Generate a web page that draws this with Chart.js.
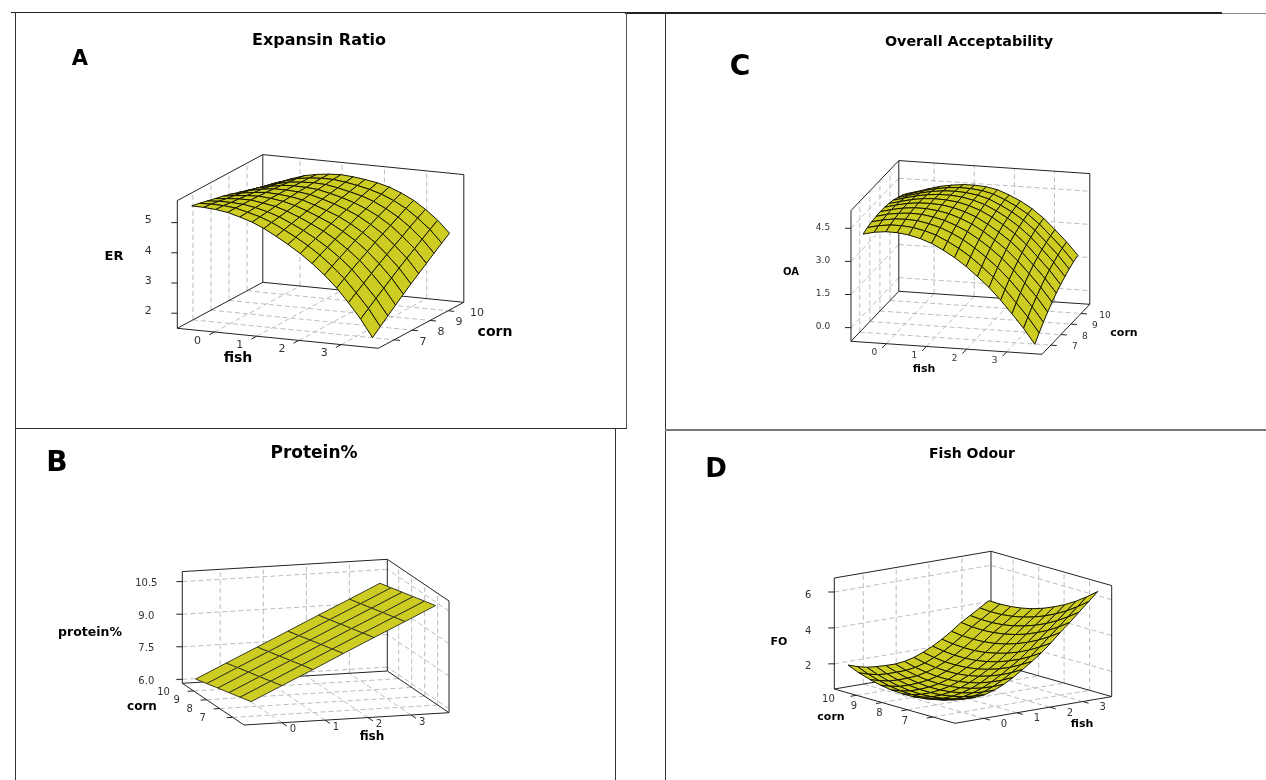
<!DOCTYPE html>
<html>
<head>
<meta charset="utf-8">
<title>Surface plots</title>
<script src="https://cdn.jsdelivr.net/npm/chart.js@4/dist/chart.umd.min.js"></script>
<style>
  html, body { margin: 0; padding: 0; background: #fff; }
  #page { position: relative; width: 1266px; height: 780px; overflow: hidden; }
  .frame { position: absolute; background: #444; }
  canvas { position: absolute; }
</style>
</head>
<body>
<div id="page"></div>
<script>
// axis ticks, same factors in every panel
const fishTicks = [0, 1, 2, 3];
const cornTicks = [7, 8, 9, 10];
const fishRange = [-0.88, 3.88];
const cornRange = [6.13, 10.87];

// mesh positions of the surfaces
const fishMesh = [-0.64, -0.36, -0.07, 0.21, 0.50, 0.79, 1.07, 1.36, 1.64, 1.93, 2.21, 2.50, 2.79, 3.07, 3.36, 3.64];
const cornMesh = [6.37, 6.80, 7.22, 7.65, 8.08, 8.50, 8.93, 9.36, 9.78, 10.21, 10.64];
const fishMeshCoarse = [-0.64, 0.07, 0.79, 1.50, 2.21, 2.93, 3.64];
const cornMeshCoarse = [6.37, 7.22, 8.08, 8.93, 9.78, 10.64];

// A: Expansin Ratio, one row per fish value, one column per corn value
const zTicksA = [2, 3, 4, 5];
const zLabelsA = ["2", "3", "4", "5"];
const erValues = [
  [5.51, 5.46, 5.40, 5.34, 5.28, 5.21, 5.13, 5.05, 4.97, 4.89, 4.80],
  [5.50, 5.47, 5.43, 5.38, 5.34, 5.29, 5.24, 5.18, 5.11, 5.05, 4.98],
  [5.47, 5.46, 5.43, 5.41, 5.38, 5.35, 5.32, 5.27, 5.23, 5.18, 5.13],
  [5.41, 5.42, 5.41, 5.41, 5.40, 5.39, 5.37, 5.35, 5.32, 5.30, 5.26],
  [5.30, 5.32, 5.34, 5.35, 5.37, 5.37, 5.37, 5.37, 5.36, 5.36, 5.34],
  [5.17, 5.21, 5.24, 5.28, 5.31, 5.33, 5.35, 5.36, 5.38, 5.39, 5.39],
  [5.00, 5.06, 5.11, 5.16, 5.21, 5.26, 5.30, 5.33, 5.36, 5.39, 5.41],
  [4.78, 4.86, 4.93, 5.00, 5.07, 5.13, 5.19, 5.24, 5.29, 5.34, 5.38],
  [4.55, 4.65, 4.74, 4.82, 4.91, 4.99, 5.07, 5.14, 5.20, 5.27, 5.33],
  [4.29, 4.41, 4.51, 4.62, 4.73, 4.83, 4.92, 5.01, 5.10, 5.18, 5.26],
  [4.00, 4.14, 4.26, 4.39, 4.51, 4.63, 4.75, 4.85, 4.96, 5.06, 5.16],
  [3.66, 3.81, 3.96, 4.10, 4.25, 4.38, 4.51, 4.64, 4.76, 4.89, 5.00],
  [3.27, 3.44, 3.61, 3.77, 3.93, 4.09, 4.24, 4.38, 4.52, 4.67, 4.80],
  [2.82, 3.01, 3.19, 3.38, 3.56, 3.73, 3.90, 4.06, 4.23, 4.39, 4.54],
  [2.32, 2.53, 2.73, 2.93, 3.13, 3.32, 3.51, 3.69, 3.87, 4.05, 4.22],
  [1.74, 1.97, 2.19, 2.41, 2.63, 2.84, 3.04, 3.24, 3.44, 3.64, 3.83],
];

// B: Protein%
const zTicksB = [6, 7.5, 9, 10.5];
const zLabelsB = ["6.0", "7.5", "9.0", "10.5"];
const proteinValues = [
  [6.77, 6.63, 6.49, 6.36, 6.22, 6.08],
  [7.42, 7.28, 7.14, 7.01, 6.87, 6.73],
  [8.07, 7.94, 7.80, 7.66, 7.52, 7.38],
  [8.73, 8.59, 8.45, 8.31, 8.17, 8.03],
  [9.38, 9.24, 9.10, 8.96, 8.82, 8.68],
  [10.03, 9.89, 9.75, 9.61, 9.47, 9.33],
  [10.68, 10.54, 10.40, 10.26, 10.12, 9.98],
];

// C: Overall Acceptability
const zTicksC = [0, 1.5, 3, 4.5];
const zLabelsC = ["0.0", "1.5", "3.0", "4.5"];
const oaValues = [
  [4.15, 4.24, 4.30, 4.34, 4.35, 4.35, 4.31, 4.26, 4.17, 4.07, 3.94],
  [4.27, 4.36, 4.42, 4.47, 4.48, 4.48, 4.44, 4.39, 4.31, 4.21, 4.08],
  [4.33, 4.43, 4.50, 4.55, 4.58, 4.59, 4.56, 4.52, 4.45, 4.36, 4.24],
  [4.32, 4.43, 4.52, 4.59, 4.63, 4.65, 4.64, 4.61, 4.56, 4.48, 4.38],
  [4.25, 4.38, 4.49, 4.57, 4.63, 4.66, 4.67, 4.66, 4.62, 4.56, 4.47],
  [4.12, 4.27, 4.39, 4.49, 4.57, 4.63, 4.65, 4.66, 4.64, 4.60, 4.53],
  [3.94, 4.11, 4.25, 4.37, 4.47, 4.54, 4.59, 4.61, 4.61, 4.59, 4.54],
  [3.67, 3.86, 4.03, 4.17, 4.29, 4.39, 4.46, 4.50, 4.53, 4.53, 4.50],
  [3.37, 3.58, 3.77, 3.93, 4.07, 4.19, 4.28, 4.34, 4.39, 4.41, 4.40],
  [3.00, 3.23, 3.43, 3.61, 3.77, 3.90, 4.01, 4.09, 4.15, 4.19, 4.20],
  [2.58, 2.83, 3.05, 3.25, 3.42, 3.57, 3.70, 3.80, 3.88, 3.93, 3.96],
  [2.12, 2.38, 2.62, 2.83, 3.02, 3.19, 3.33, 3.44, 3.54, 3.61, 3.65],
  [1.58, 1.86, 2.11, 2.33, 2.54, 2.72, 2.87, 3.00, 3.11, 3.19, 3.25],
  [1.00, 1.29, 1.55, 1.78, 2.00, 2.19, 2.35, 2.49, 2.61, 2.70, 2.77],
  [0.38, 0.68, 0.95, 1.19, 1.42, 1.62, 1.79, 1.94, 2.07, 2.17, 2.25],
  [-0.31, 0.00, 0.28, 0.54, 0.78, 0.99, 1.17, 1.33, 1.47, 1.59, 1.68],
];

// D: Fish Odour
const zTicksD = [2, 4, 6];
const zLabelsD = ["2", "4", "6"];
const foValues = [
  [1.82, 1.59, 1.41, 1.29, 1.22, 1.21, 1.25, 1.34, 1.49, 1.69, 1.95],
  [1.72, 1.48, 1.30, 1.17, 1.10, 1.08, 1.11, 1.20, 1.34, 1.53, 1.78],
  [1.70, 1.45, 1.26, 1.12, 1.03, 1.00, 1.02, 1.10, 1.23, 1.41, 1.65],
  [1.76, 1.50, 1.30, 1.15, 1.05, 1.01, 1.02, 1.08, 1.20, 1.37, 1.60],
  [1.92, 1.64, 1.42, 1.25, 1.13, 1.07, 1.06, 1.11, 1.21, 1.37, 1.57],
  [2.15, 1.85, 1.60, 1.41, 1.27, 1.18, 1.15, 1.17, 1.25, 1.38, 1.56],
  [2.45, 2.12, 1.85, 1.63, 1.47, 1.36, 1.30, 1.30, 1.36, 1.46, 1.62],
  [2.80, 2.45, 2.16, 1.92, 1.73, 1.60, 1.52, 1.50, 1.53, 1.61, 1.75],
  [3.16, 2.80, 2.49, 2.23, 2.03, 1.88, 1.79, 1.75, 1.76, 1.83, 1.95],
  [3.55, 3.17, 2.85, 2.58, 2.36, 2.20, 2.09, 2.04, 2.04, 2.09, 2.20],
  [4.00, 3.61, 3.27, 2.98, 2.75, 2.58, 2.45, 2.38, 2.37, 2.41, 2.50],
  [4.50, 4.09, 3.74, 3.44, 3.19, 3.00, 2.86, 2.78, 2.75, 2.77, 2.85],
  [4.97, 4.55, 4.19, 3.89, 3.63, 3.44, 3.29, 3.20, 3.16, 3.18, 3.25],
  [5.45, 5.02, 4.64, 4.31, 4.04, 3.83, 3.66, 3.55, 3.50, 3.50, 3.55],
  [5.95, 5.50, 5.10, 4.76, 4.47, 4.24, 4.06, 3.93, 3.86, 3.84, 3.88],
  [6.43, 5.96, 5.55, 5.19, 4.89, 4.64, 4.44, 4.30, 4.22, 4.18, 4.20],
];

const SURFACE = "#cccc22";
const MESH = "#141400";
const EDGE = "#222222";
const GRID = "#bdbdbd";
const FONT = "'DejaVu Sans'";

// frame lines of the four boxes: left, top, width, height, colour
const frames = [
  [11, 12, 615, 1, "#222"], [625, 12, 597, 2, "#222"], [1222, 13, 44, 1, "#888"],
  [15, 12, 1, 416, "#333"], [626, 12, 1, 416, "#555"], [15, 428, 612, 1, "#333"],
  [665, 12, 1, 768, "#333"], [665, 429, 601, 2, "#777"],
  [15, 428, 1, 352, "#333"], [615, 428, 1, 352, "#333"],
];

const panels = [
  {
    box: [16, 13, 610, 415],
    origin: [177.3, 328.3], ex: [201, 20], ey: [85.5, -46], ez: 127.7,
    zRange: [1.5, 5.73], zTicks: zTicksA, zLabels: zLabelsA, zGrid: false,
    fish: fishMesh, corn: cornMesh, values: erValues, sideWallAtFishMax: false,
    tickFont: 11, mesh: MESH,
    fishLabel: [-17, 9], cornLabel: [29, 2], zLabel: [-29, -2],
    texts: [
      ["Expansin Ratio", 319, 41, "bold 16px"], ["A", 80, 60, "bold 21px"],
      ["ER", 114, 257, "bold 13px"], ["fish", 238, 358, "bold 14px"], ["corn", 495, 332, "bold 14px"],
    ],
  },
  {
    box: [16, 429, 599, 351],
    origin: [244, 725], ex: [205, -12.3], ey: [-61.7, -41.7], ez: 111.7,
    zRange: [5.82, 10.96], zTicks: zTicksB, zLabels: zLabelsB, zGrid: true,
    fish: fishMeshCoarse, corn: cornMeshCoarse, values: proteinValues, sideWallAtFishMax: true,
    tickFont: 10, mesh: "#3a3a20",
    fishLabel: [11, 7], cornLabel: [-30, 1], zLabel: [-36, 2],
    texts: [
      ["Protein%", 314, 454, "bold 17px"], ["B", 57, 464, "bold 28px"],
      ["protein%", 90, 633, "bold 12.5px"], ["corn", 142, 707, "bold 12px"], ["fish", 372, 737, "bold 12px"],
    ],
  },
  {
    box: [666, 13, 600, 416],
    origin: [851, 341.3], ex: [191, 13], ey: [47.8, -50], ez: 130.7,
    zRange: [-0.62, 5.3], zTicks: zTicksC, zLabels: zLabelsC, zGrid: true,
    fish: fishMesh, corn: cornMesh, values: oaValues, sideWallAtFishMax: false,
    tickFont: 9, mesh: MESH,
    fishLabel: [-12, 9], cornLabel: [24, 2], zLabel: [-28, -1],
    texts: [
      ["Overall Acceptability", 969, 42, "bold 14.3px"], ["C", 740, 68, "bold 28px"],
      ["OA", 791, 272, "bold 10px"], ["corn", 1124, 333, "bold 11px"], ["fish", 924, 369, "bold 11px"],
    ],
  },
  {
    box: [666, 431, 600, 349],
    origin: [955, 723.3], ex: [156.7, -26.7], ey: [-120.7, -34.3], ez: 111,
    zRange: [0.6, 6.78], zTicks: zTicksD, zLabels: zLabelsD, zGrid: true,
    fish: fishMesh, corn: cornMesh, values: foValues, sideWallAtFishMax: true,
    tickFont: 10, mesh: MESH,
    fishLabel: [20, 6], cornLabel: [-28, 4], zLabel: [-26, 3],
    texts: [
      ["Fish Odour", 972, 454, "bold 14px"], ["D", 716, 470, "bold 26px"],
      ["FO", 779, 642, "bold 11px"], ["corn", 831, 717, "bold 11px"], ["fish", 1082, 724, "bold 11px"],
    ],
  },
];

const page = document.getElementById("page");
frames.forEach(([left, top, width, height, color]) => {
  const line = document.createElement("div");
  line.className = "frame";
  line.style.cssText = `left:${left}px;top:${top}px;width:${width}px;height:${height}px;background:${color}`;
  page.appendChild(line);
});

// Parallel projection of (fish, corn, value) on the page
const projector = (p) => (fish, corn, value) => {
  const u = (fish - fishRange[0]) / (fishRange[1] - fishRange[0]);
  const v = (corn - cornRange[0]) / (cornRange[1] - cornRange[0]);
  const w = (value - p.zRange[0]) / (p.zRange[1] - p.zRange[0]);
  return {
    x: p.origin[0] + u * p.ex[0] + v * p.ey[0],
    y: p.origin[1] + u * p.ex[1] + v * p.ey[1] - w * p.ez,
  };
};

const lineSet = (points, color, width, dash, order) => ({
  data: points, showLine: true, fill: false, borderColor: color, borderWidth: width,
  borderDash: dash, pointRadius: 0, tension: 0, clip: false, order,
});

const buildDatasets = (p) => {
  const at = projector(p);
  const [f0, f1] = fishRange;
  const [c0, c1] = cornRange;
  const [z0, z1] = p.zRange;
  const wallFish = p.sideWallAtFishMax ? f1 : f0;
  const sets = [];

  // dashed grid on the floor and the two walls
  const dash = (a, b) => sets.push(lineSet([a, b], GRID, 1, [5, 3], 100000));
  fishTicks.forEach((f) => {
    dash(at(f, c0, z0), at(f, c1, z0));
    dash(at(f, c1, z0), at(f, c1, z1));
  });
  cornTicks.forEach((c) => {
    dash(at(f0, c, z0), at(f1, c, z0));
    dash(at(wallFish, c, z0), at(wallFish, c, z1));
  });
  if (p.zGrid) {
    p.zTicks.forEach((z) => {
      dash(at(f0, c1, z), at(f1, c1, z));
      dash(at(wallFish, c0, z), at(wallFish, c1, z));
    });
  }

  // solid box edges
  const edge = (pts) => sets.push(lineSet(pts, EDGE, 1, [], 90000));
  edge([at(f0, c0, z0), at(f1, c0, z0), at(f1, c1, z0), at(f0, c1, z0), at(f0, c0, z0)]);
  edge([at(wallFish, c0, z0), at(wallFish, c0, z1), at(wallFish, c1, z1), at(wallFish === f0 ? f1 : f0, c1, z1)]);
  edge([at(f0, c1, z0), at(f0, c1, z1)]);
  edge([at(f1, c1, z0), at(f1, c1, z1)]);

  // tick marks, pointing out of the box
  const outward = (vec, sign) => {
    const len = Math.hypot(vec[0], vec[1]);
    return [(sign * vec[0] * 6) / len, (sign * vec[1] * 6) / len];
  };
  const cornEdgeFish = p.sideWallAtFishMax ? f0 : f1;
  const cornDir = outward(p.ex, p.sideWallAtFishMax ? -1 : 1);
  const fishDir = outward(p.ey, -1);
  const zCorn = p.sideWallAtFishMax ? c1 : c0;
  const tick = (a, d) => sets.push(lineSet([a, { x: a.x + d[0], y: a.y + d[1] }], EDGE, 1, [], 80000));
  fishTicks.forEach((f) => tick(at(f, c0, z0), fishDir));
  cornTicks.forEach((c) => tick(at(cornEdgeFish, c, z0), cornDir));
  p.zTicks.forEach((z) => tick(at(f0, zCorn, z), [-6, 0]));

  // surface cells, painted from the back to the front
  const cells = [];
  for (let i = 0; i < p.fish.length - 1; i++) {
    for (let j = 0; j < p.corn.length - 1; j++) {
      const floor = at((p.fish[i] + p.fish[i + 1]) / 2, (p.corn[j] + p.corn[j + 1]) / 2, z0);
      cells.push({ i, j, depth: floor.y });
    }
  }
  cells.sort((a, b) => a.depth - b.depth);
  cells.forEach(({ i, j }, n) => {
    const corner = (a, b) => at(p.fish[a], p.corn[b], p.values[a][b]);
    const first = corner(i, j);
    sets.push({
      data: [first, corner(i + 1, j), corner(i + 1, j + 1), corner(i, j + 1), first],
      showLine: true, fill: "shape", backgroundColor: SURFACE, borderColor: p.mesh, borderWidth: 1,
      pointRadius: 0, tension: 0, clip: false, borderJoinStyle: "round", order: cells.length - n,
    });
  });
  return sets;
};

// All texts go through the chart scales
const textPlugin = {
  id: "panelTexts",
  afterDraw(chart) {
    const p = chart.options.plugins.panelTexts.panel;
    const { ctx, scales } = chart;
    const at = projector(p);
    const put = (text, x, y, font, color) => {
      ctx.font = `${font} ${FONT}`;
      ctx.fillStyle = color;
      ctx.fillText(text, scales.x.getPixelForValue(x), scales.y.getPixelForValue(y));
    };
    ctx.save();
    ctx.textAlign = "center";
    ctx.textBaseline = "middle";
    const tickFont = `${p.tickFont}px`;
    const zCorn = p.sideWallAtFishMax ? cornRange[1] : cornRange[0];
    const cornFish = p.sideWallAtFishMax ? fishRange[0] : fishRange[1];
    fishTicks.forEach((f) => {
      const a = at(f, cornRange[0], p.zRange[0]);
      put(String(f), a.x + p.fishLabel[0], a.y + p.fishLabel[1], tickFont, "#333");
    });
    cornTicks.forEach((c) => {
      const a = at(cornFish, c, p.zRange[0]);
      put(String(c), a.x + p.cornLabel[0], a.y + p.cornLabel[1], tickFont, "#333");
    });
    p.zTicks.forEach((z, k) => {
      const a = at(fishRange[0], zCorn, z);
      put(p.zLabels[k], a.x + p.zLabel[0], a.y + p.zLabel[1], tickFont, "#333");
    });
    p.texts.forEach(([text, x, y, font]) => put(text, x, y, font, "#000"));
    ctx.restore();
  },
};

panels.forEach((p) => {
  const [left, top, width, height] = p.box;
  const canvas = document.createElement("canvas");
  canvas.width = width;
  canvas.height = height;
  canvas.style.cssText = `left:${left}px;top:${top}px;width:${width}px;height:${height}px`;
  page.appendChild(canvas);
  new Chart(canvas.getContext("2d"), {
    type: "scatter",
    data: { datasets: buildDatasets(p) },
    options: {
      responsive: false,
      animation: false,
      layout: { padding: 0 },
      scales: {
        x: { type: "linear", display: false, min: left, max: left + width },
        y: { type: "linear", display: false, min: top, max: top + height, reverse: true },
      },
      plugins: {
        legend: { display: false },
        tooltip: { enabled: false },
        panelTexts: { panel: p },
      },
    },
    plugins: [textPlugin],
  });
});
</script>
</body>
</html>
